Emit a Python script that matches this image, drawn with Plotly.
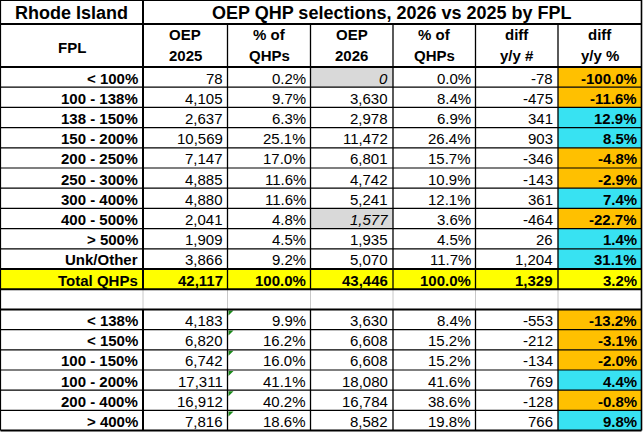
import plotly.graph_objects as go

# ---------------- data ----------------
state = "Rhode Island"
title = "OEP QHP selections, 2026 vs 2025 by FPL"
col_headers = [["FPL"], ["OEP", "2025"], ["% of", "QHPs"], ["OEP", "2026"],
               ["% of", "QHPs"], ["diff", "y/y #"], ["diff", "y/y %"]]

fpl = ["< 100%", "100 - 138%", "138 - 150%", "150 - 200%", "200 - 250%",
       "250 - 300%", "300 - 400%", "400 - 500%", "> 500%", "Unk/Other", "Total QHPs"]
oep2025 = [78, 4105, 2637, 10569, 7147, 4885, 4880, 2041, 1909, 3866, 42117]
pct2025 = [0.2, 9.7, 6.3, 25.1, 17.0, 11.6, 11.6, 4.8, 4.5, 9.2, 100.0]
oep2026 = [0, 3630, 2978, 11472, 6801, 4742, 5241, 1577, 1935, 5070, 43446]
pct2026 = [0.0, 8.4, 6.9, 26.4, 15.7, 10.9, 12.1, 3.6, 4.5, 11.7, 100.0]
diff_n = [-78, -475, 341, 903, -346, -143, 361, -464, 26, 1204, 1329]
diff_pct = [-100.0, -11.6, 12.9, 8.5, -4.8, -2.9, 7.4, -22.7, 1.4, 31.1, 3.2]
estimated_2026 = ["< 100%", "400 - 500%"]

grp = ["< 138%", "< 150%", "100 - 150%", "100 - 200%", "200 - 400%", "> 400%"]
g2025 = [4183, 6820, 6742, 17311, 16912, 7816]
gpct2025 = [9.9, 16.2, 16.0, 41.1, 40.2, 18.6]
g2026 = [3630, 6608, 6608, 18080, 16784, 8582]
gpct2026 = [8.4, 15.2, 15.2, 41.6, 38.6, 19.8]
gdiff_n = [-553, -212, -134, 769, -128, 766]
gdiff_pct = [-13.2, -3.1, -2.0, 4.4, -0.8, 9.8]

# ---------------- style / geometry ----------------
W, H = 643, 432
FONT = "Liberation Sans, Arial, sans-serif"
ORANGE = "#FFC000"
CYAN = "#38E2F2"
YELLOW = "#FFFF00"
GRAY = "#D9D9D9"
LIGHTLINE = "#C8C8C8"
GREEN = "#1A8A1A"

col_edges = [0.5, 143, 227.5, 310.5, 393, 475.5, 558, 641.5]
TITLE_B = 24
HEAD_B = 67
ROW_H = 20.2


def row_top(i):
    return HEAD_B + i * ROW_H


shapes = []
annotations = []


def rect(x0, y0, x1, y1, color):
    shapes.append(dict(type="rect", xref="x", yref="y", x0=x0, y0=y0, x1=x1, y1=y1,
                       fillcolor=color, line=dict(width=0), layer="below"))


def line(x0, y0, x1, y1, width=1, color="black"):
    shapes.append(dict(type="line", xref="x", yref="y", x0=x0, y0=y0, x1=x1, y1=y1,
                       line=dict(width=width, color=color)))


def txt(x, y, s, anchor="right", size=15, bold=False, italic=False):
    if bold:
        s = "<b>" + s + "</b>"
    if italic:
        s = "<i>" + s + "</i>"
    annotations.append(dict(x=x, y=y, xref="x", yref="y", text=s, showarrow=False,
                            xanchor=anchor, yanchor="middle",
                            font=dict(family=FONT, size=size, color="black")))


def fmt_n(v):
    return f"{v:,}"


def fmt_p(v):
    return f"{v:.1f}%"


# ---------------- build rows ----------------
rows = []
for k in range(len(fpl)):
    rows.append(dict(label=fpl[k], vals=[oep2025[k], pct2025[k], oep2026[k], pct2026[k],
                                         diff_n[k], diff_pct[k]],
                     total=(fpl[k].startswith("Total")), est=fpl[k] in estimated_2026,
                     green=False))
rows.append(None)  # blank spacer row
for k in range(len(grp)):
    rows.append(dict(label=grp[k], vals=[g2025[k], gpct2025[k], g2026[k], gpct2026[k],
                                         gdiff_n[k], gdiff_pct[k]],
                     total=False, est=False, green=True))

n_rows = len(rows)
bottom = row_top(n_rows)

# fills
for i, r in enumerate(rows):
    if r is None:
        continue
    y0, y1 = row_top(i), row_top(i + 1)
    if r["total"]:
        rect(col_edges[0], y0, col_edges[-1], y1, YELLOW)
    else:
        dp = r["vals"][5]
        rect(col_edges[6], y0, col_edges[7], y1, ORANGE if dp < 0 else CYAN)
        if r["est"]:
            rect(col_edges[3], y0, col_edges[4], y1, GRAY)

# text: title + header
txt((col_edges[0] + col_edges[1]) / 2, TITLE_B / 2 + 0.5, state, "center", 18, bold=True)
txt((col_edges[1] + col_edges[-1]) / 2, TITLE_B / 2 + 0.5, title, "center", 18, bold=True)
for c, hdr in enumerate(col_headers):
    xc = (col_edges[c] + col_edges[c + 1]) / 2
    if len(hdr) == 1:
        txt(xc, 47, hdr[0], "center", 15, bold=True)
    else:
        txt(xc, 34.5, hdr[0], "center", 15, bold=True)
        txt(xc, 55.5, hdr[1], "center", 15, bold=True)

# text: body
for i, r in enumerate(rows):
    if r is None:
        continue
    yc = (row_top(i) + row_top(i + 1)) / 2 + 1
    txt(col_edges[1] - 3, yc, r["label"], "right", 15, bold=True)
    v = r["vals"]
    cells = [fmt_n(v[0]), fmt_p(v[1]), fmt_n(v[2]), fmt_p(v[3]), fmt_n(v[4]), fmt_p(v[5])]
    for c, s in enumerate(cells):
        bold = r["total"] or c == 5
        italic = (c == 2 and r["est"])
        txt(col_edges[c + 2] - 3, yc, s, "right", 15, bold=bold, italic=italic)
    if r["green"]:
        x0 = col_edges[2] + 1
        y0 = row_top(i) + 1
        shapes.append(dict(type="path", xref="x", yref="y",
                           path=f"M {x0},{y0} L {x0 + 5},{y0} L {x0},{y0 + 5} Z",
                           fillcolor=GREEN, line=dict(width=0)))

# lines: blank row light verticals first
bi = rows.index(None)
for x in col_edges[1:-1]:
    line(x, row_top(bi), x, row_top(bi + 1), 1, LIGHTLINE)

# vertical lines
line(col_edges[1], 0, col_edges[1], row_top(bi), 2)
line(col_edges[1], row_top(bi + 1), col_edges[1], bottom, 2)
for x in col_edges[2:-1]:
    line(x, TITLE_B, x, row_top(bi), 1.3)
    line(x, row_top(bi + 1), x, bottom, 1.3)

# horizontal lines
for i in range(1, n_rows):
    if rows[i - 1] is None or rows[i] is None:
        continue
    th = 2 if (rows[i]["total"] or rows[i - 1]["total"]) else 1.2
    line(col_edges[0], row_top(i), col_edges[-1], row_top(i), th)
line(col_edges[0], row_top(bi), col_edges[-1], row_top(bi), 2)
line(col_edges[0], row_top(bi + 1), col_edges[-1], row_top(bi + 1), 2)
line(col_edges[0], TITLE_B, col_edges[-1], TITLE_B, 2)
line(col_edges[0], HEAD_B, col_edges[-1], HEAD_B, 2)

# outer border
line(col_edges[0], 0.5, col_edges[-1], 0.5, 1.2)
line(col_edges[0], bottom, col_edges[-1], bottom, 2)
line(col_edges[0], 0, col_edges[0], bottom, 1.2)
line(col_edges[-1], 0, col_edges[-1], bottom, 1.6)

fig = go.Figure()
fig.update_layout(
    width=W, height=H,
    margin=dict(l=0, r=0, t=0, b=0),
    paper_bgcolor="white", plot_bgcolor="white",
    xaxis=dict(range=[0, W], visible=False, fixedrange=True),
    yaxis=dict(range=[H, 0], visible=False, fixedrange=True),
    shapes=shapes, annotations=annotations, showlegend=False,
)
fig.write_html("out.html", config={"displayModeBar": False},
               post_script="document.body.style.margin='0';document.body.style.overflow='hidden';")
